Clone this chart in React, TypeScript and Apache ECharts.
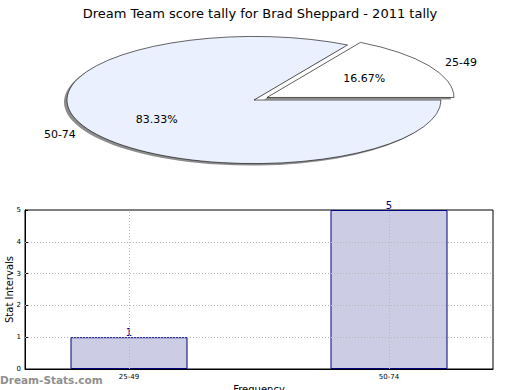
import React, { useEffect, useRef } from "react";
import * as echarts from "echarts";

const titleText = "Dream Team score tally for Brad Sheppard - 2011 tally";
const pieLabels = ["25-49", "50-74"];
const pieValues = [1, 5];
const pieColors = ["#ffffff", "#eaf0fd"];
const pieExplode = [0.08, 0];

const barCategories = ["25-49", "50-74"];
const barValues = [1, 5];
const yTicks = [1, 2, 3, 4];

const FONT = "DejaVu Sans";

export default function App() {
  const ref = useRef<HTMLDivElement>(null);
  useEffect(() => {
    const chart = echarts.init(ref.current!, null, { renderer: "svg" });
    const cx = 254, cy = 100, rx = 187, ry = 63.5;
    const k = ry / rx;
    const total = pieValues.reduce((a, b) => a + b, 0);

    const renderPie = (params: any) => {
      const i = params.dataIndex;
      let before = 0;
      for (let j = 0; j < i; j++) before += pieValues[j];
      const t1 = (before / total) * Math.PI * 2;
      const t2 = ((before + pieValues[i]) / total) * Math.PI * 2;
      const mid = (t1 + t2) / 2;
      const e = pieExplode[i];
      const ox = e * rx * Math.cos(mid);
      const oy = -e * rx * Math.sin(mid);
      const sectorShape = {
        cx: ox,
        cy: oy,
        r0: 0,
        r: rx,
        startAngle: -t2,
        endAngle: -t1,
        clockwise: true,
      };
      const lx = cx + ox + 1.1 * rx * Math.cos(mid);
      const ly = cy + oy * k - 1.1 * ry * Math.sin(mid);
      const px = cx + ox + 0.6 * rx * Math.cos(mid);
      const py = cy + oy * k - 0.6 * ry * Math.sin(mid);
      const pct = ((pieValues[i] / total) * 100).toFixed(2) + "%";
      return {
        type: "group",
        children: [
          {
            type: "group",
            x: cx - 3,
            y: cy + 2,
            scaleY: k,
            children: [
              {
                type: "sector",
                shape: sectorShape,
                z2: 0,
                style: { fill: "rgba(0,0,0,0.45)", stroke: "none" },
              },
            ],
          },
          {
            type: "group",
            x: cx,
            y: cy,
            scaleY: k,
            children: [
              {
                type: "sector",
                shape: sectorShape,
                z2: 10,
                style: {
                  fill: pieColors[i],
                  stroke: "#000",
                  lineWidth: 0.9,
                  strokeNoScale: true,
                },
              },
            ],
          },
          {
            type: "text",
            x: lx,
            y: ly,
            z2: 20,
            style: {
              text: pieLabels[i],
              fill: "#000",
              font: `11px "${FONT}"`,
              align: Math.cos(mid) >= 0 ? "left" : "right",
              verticalAlign: "middle",
            },
          },
          {
            type: "text",
            x: px,
            y: py,
            z2: 20,
            style: {
              text: pct,
              fill: "#000",
              font: `11px "${FONT}"`,
              align: "center",
              verticalAlign: "middle",
            },
          },
        ],
      };
    };

    chart.setOption({
      animation: false,
      textStyle: { fontFamily: FONT },
      title: {
        text: titleText,
        left: "center",
        top: 2,
        textStyle: { fontSize: 13, fontWeight: "normal", color: "#000", fontFamily: FONT },
      },
      grid: {
        left: 25,
        right: 27,
        top: 210,
        bottom: 21,
        show: true,
        borderColor: "#000",
        borderWidth: 1,
        backgroundColor: "#fff",
        containLabel: false,
        outerBoundsMode: "none",
      },
      xAxis: {
        type: "value",
        min: -0.4,
        max: 1.4,
        name: "Frequency",
        nameLocation: "middle",
        nameGap: 15,
        nameMoveOverlap: false,
        nameTextStyle: { fontSize: 10, color: "#000", fontFamily: FONT },
        axisLine: { show: true, onZero: false, lineStyle: { color: "#000" } },
        axisTick: { show: false },
        splitLine: { show: false },
        axisLabel: {
          customValues: [0, 1],
          formatter: (v: number) => barCategories[Math.round(v)] ?? "",
          fontSize: 7,
          color: "#000",
          margin: 4,
        },
      },
      yAxis: {
        type: "value",
        min: 0,
        max: 5,
        interval: 1,
        name: "Stat Intervals",
        nameLocation: "middle",
        nameGap: 11,
        nameMoveOverlap: false,
        nameRotate: 90,
        nameTextStyle: { fontSize: 10, color: "#000", fontFamily: FONT },
        axisLine: { show: true, onZero: false, lineStyle: { color: "#000" } },
        axisTick: { show: true, inside: true, length: 3, lineStyle: { color: "#000" } },
        splitLine: { show: false },
        axisLabel: { fontSize: 7, color: "#000", margin: 4 },
      },
      graphic: [
        {
          type: "text",
          left: 0,
          top: 374,
          style: {
            text: "Dream-Stats.com",
            fill: "#8f8f8f",
            font: `bold 10.5px "${FONT}"`,
          },
        },
      ],
      series: [
        {
          type: "custom",
          coordinateSystem: "none",
          renderItem: renderPie,
          data: pieValues,
          silent: true,
        },
        {
          type: "bar",
          data: barValues.map((v, i) => [i, v]),
          barWidth: 117,
          itemStyle: { color: "#ccccE4", borderColor: "#000080", borderWidth: 1 },
          label: {
            show: true,
            position: "top",
            distance: 0,
            color: "#000080",
            fontSize: 10,
          },
          markLine: {
            silent: true,
            symbol: ["none", "none"],
            label: { show: false },
            lineStyle: { color: "#b8b8b8", type: [1, 2], width: 1 },
            data: [
              ...yTicks.map((t) => ({ yAxis: t })),
              ...barCategories.map((_, i) => ({ xAxis: i })),
            ],
          },
        },
      ],
    });
    return () => chart.dispose();
  }, []);
  return (
    <div
      ref={ref}
      style={{ width: 520, height: 390, position: "fixed", left: 0, top: 0, background: "#fff" }}
    />
  );
}
